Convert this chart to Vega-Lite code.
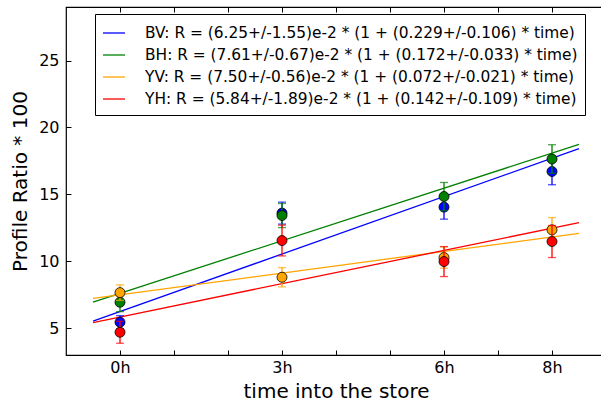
{
  "$schema": "https://vega.github.io/schema/vega-lite/v6.json",
  "width": 540,
  "height": 348,
  "autosize": "none",
  "padding": {"left": 66, "top": 7, "right": 0, "bottom": 51},
  "background": "white",
  "datasets": {
    "pts": [
      {"group": "BV", "t": 0, "v": 5.45, "lo": 4.96, "hi": 5.94},
      {"group": "BV", "t": 3, "v": 13.60, "lo": 12.78, "hi": 14.42},
      {"group": "BV", "t": 6, "v": 14.05, "lo": 13.15, "hi": 14.95},
      {"group": "BV", "t": 8, "v": 16.71, "lo": 15.72, "hi": 17.70},
      {"group": "BH", "t": 0, "v": 6.94, "lo": 6.24, "hi": 7.64},
      {"group": "BH", "t": 3, "v": 13.42, "lo": 12.52, "hi": 14.32},
      {"group": "BH", "t": 6, "v": 14.84, "lo": 13.79, "hi": 15.89},
      {"group": "BH", "t": 8, "v": 17.64, "lo": 16.57, "hi": 18.71},
      {"group": "YV", "t": 0, "v": 7.66, "lo": 7.08, "hi": 8.24},
      {"group": "YV", "t": 3, "v": 8.81, "lo": 8.09, "hi": 9.53},
      {"group": "YV", "t": 6, "v": 10.28, "lo": 9.48, "hi": 11.08},
      {"group": "YV", "t": 8, "v": 12.35, "lo": 11.43, "hi": 13.27},
      {"group": "YH", "t": 0, "v": 4.70, "lo": 3.88, "hi": 5.52},
      {"group": "YH", "t": 3, "v": 11.55, "lo": 10.40, "hi": 12.70},
      {"group": "YH", "t": 6, "v": 9.98, "lo": 8.86, "hi": 11.10},
      {"group": "YH", "t": 8, "v": 11.48, "lo": 10.28, "hi": 12.68}
    ],
    "fit": [
      {"group": "BV", "t": -0.5, "v": 5.534},
      {"group": "BV", "t": 8.5, "v": 18.416},
      {"group": "BH", "t": -0.5, "v": 6.956},
      {"group": "BH", "t": 8.5, "v": 18.736},
      {"group": "YV", "t": -0.5, "v": 7.23},
      {"group": "YV", "t": 8.5, "v": 12.09},
      {"group": "YH", "t": -0.5, "v": 5.425},
      {"group": "YH", "t": 8.5, "v": 12.889}
    ]
  },
  "resolve": {"axis": {"x": "independent", "y": "independent"}},
  "layer": [
    {
      "data": {"name": "fit"},
      "mark": {"type": "line", "strokeWidth": 1.3},
      "encoding": {
        "x": {"field": "t", "type": "quantitative", "scale": {"domain": [-1, 9], "nice": false, "zero": false},
          "axis": {"orient": "bottom", "values": [0, 1, 2, 3, 4, 5, 6, 7, 8], "labelExpr": "indexof([0,3,6,8], datum.value) >= 0 ? datum.value + 'h' : ''",
            "title": "time into the store", "tickSize": -5, "labelPadding": 9, "titlePadding": 6}},
        "y": {"field": "v", "type": "quantitative", "scale": {"domain": [3, 29], "nice": false, "zero": false},
          "axis": {"orient": "left", "values": [5, 10, 15, 20, 25], "title": "Profile Ratio * 100", "tickSize": -5, "labelPadding": 12, "titlePadding": 8}},
        "color": {"field": "group", "type": "nominal",
          "scale": {"domain": ["BV", "BH", "YV", "YH"], "range": ["#0000ff", "#008000", "#ffa500", "#ff0000"]},
          "legend": {"orient": "none", "legendX": 29, "legendY": 7, "title": null, "symbolType": "stroke", "symbolSize": 484, "symbolStrokeWidth": 1.3,
            "labelFontSize": 15.4, "labelColor": "#000", "labelLimit": 700, "labelOffset": 19, "padding": 7, "rowPadding": 1,
            "strokeColor": "#000", "fillColor": "white", "cornerRadius": 0,
            "labelExpr": "datum.label == 'BV' ? 'BV: R = (6.25+/-1.55)e-2 * (1 + (0.229+/-0.106) * time)' : datum.label == 'BH' ? 'BH: R = (7.61+/-0.67)e-2 * (1 + (0.172+/-0.033) * time)' : datum.label == 'YV' ? 'YV: R = (7.50+/-0.56)e-2 * (1 + (0.072+/-0.021) * time)' : 'YH: R = (5.84+/-1.89)e-2 * (1 + (0.142+/-0.109) * time)'"}}
      }
    },
    {
      "data": {"name": "pts"},
      "transform": [{"filter": "datum.group == 'BV'"}],
      "layer": [
        {"mark": {"type": "errorbar", "ticks": {"size": 8}, "thickness": 1.3},
         "encoding": {"x": {"field": "t", "type": "quantitative", "axis": null}, "y": {"field": "lo", "type": "quantitative", "axis": null}, "y2": {"field": "hi"},
           "color": {"field": "group", "type": "nominal", "legend": null}}},
        {"mark": {"type": "point", "shape": "circle", "filled": true, "size": 100, "opacity": 1, "stroke": "#000", "strokeWidth": 0.8},
         "encoding": {"x": {"field": "t", "type": "quantitative", "axis": null}, "y": {"field": "v", "type": "quantitative", "axis": null},
           "fill": {"field": "group", "type": "nominal", "scale": {"domain": ["BV", "BH", "YV", "YH"], "range": ["#0000ff", "#008000", "#ffa500", "#ff0000"]}, "legend": null}}}
      ]
    },
    {
      "data": {"name": "pts"},
      "transform": [{"filter": "datum.group == 'BH'"}],
      "layer": [
        {"mark": {"type": "errorbar", "ticks": {"size": 8}, "thickness": 1.3},
         "encoding": {"x": {"field": "t", "type": "quantitative", "axis": null}, "y": {"field": "lo", "type": "quantitative", "axis": null}, "y2": {"field": "hi"},
           "color": {"field": "group", "type": "nominal", "legend": null}}},
        {"mark": {"type": "point", "shape": "circle", "filled": true, "size": 100, "opacity": 1, "stroke": "#000", "strokeWidth": 0.8},
         "encoding": {"x": {"field": "t", "type": "quantitative", "axis": null}, "y": {"field": "v", "type": "quantitative", "axis": null},
           "fill": {"field": "group", "type": "nominal", "legend": null}}}
      ]
    },
    {
      "data": {"name": "pts"},
      "transform": [{"filter": "datum.group == 'YV'"}],
      "layer": [
        {"mark": {"type": "errorbar", "ticks": {"size": 8}, "thickness": 1.3},
         "encoding": {"x": {"field": "t", "type": "quantitative", "axis": null}, "y": {"field": "lo", "type": "quantitative", "axis": null}, "y2": {"field": "hi"},
           "color": {"field": "group", "type": "nominal", "legend": null}}},
        {"mark": {"type": "point", "shape": "circle", "filled": true, "size": 100, "opacity": 1, "stroke": "#000", "strokeWidth": 0.8},
         "encoding": {"x": {"field": "t", "type": "quantitative", "axis": null}, "y": {"field": "v", "type": "quantitative", "axis": null},
           "fill": {"field": "group", "type": "nominal", "legend": null}}}
      ]
    },
    {
      "data": {"name": "pts"},
      "transform": [{"filter": "datum.group == 'YH'"}],
      "layer": [
        {"mark": {"type": "errorbar", "ticks": {"size": 8}, "thickness": 1.3},
         "encoding": {"x": {"field": "t", "type": "quantitative", "axis": null}, "y": {"field": "lo", "type": "quantitative", "axis": null}, "y2": {"field": "hi"},
           "color": {"field": "group", "type": "nominal", "legend": null}}},
        {"mark": {"type": "point", "shape": "circle", "filled": true, "size": 100, "opacity": 1, "stroke": "#000", "strokeWidth": 0.8},
         "encoding": {"x": {"field": "t", "type": "quantitative", "axis": null}, "y": {"field": "v", "type": "quantitative", "axis": null},
           "fill": {"field": "group", "type": "nominal", "legend": null}}}
      ]
    },
    {
      "data": {"name": "fit"},
      "mark": {"type": "point", "opacity": 0},
      "encoding": {
        "x": {"field": "t", "type": "quantitative", "axis": {"orient": "top", "values": [0, 1, 2, 3, 4, 5, 6, 7, 8], "labels": false, "title": null, "tickSize": -5}},
        "y": {"field": "v", "type": "quantitative", "axis": {"orient": "right", "values": [5, 10, 15, 20, 25], "labels": false, "title": null, "tickSize": -5}}
      }
    }
  ],
  "config": {
    "font": "DejaVu Sans",
    "view": {"stroke": "#000", "strokeWidth": 1.2},
    "axis": {"domain": false, "grid": false, "tickColor": "#000", "tickWidth": 1, "labelFont": "DejaVu Sans", "labelFontSize": 16, "labelColor": "#000",
      "titleFont": "DejaVu Sans", "titleFontSize": 20, "titleFontWeight": "normal", "titleColor": "#000", "labelOverlap": false, "labelFlush": false},
    "legend": {"labelFont": "DejaVu Sans"}
  }
}
